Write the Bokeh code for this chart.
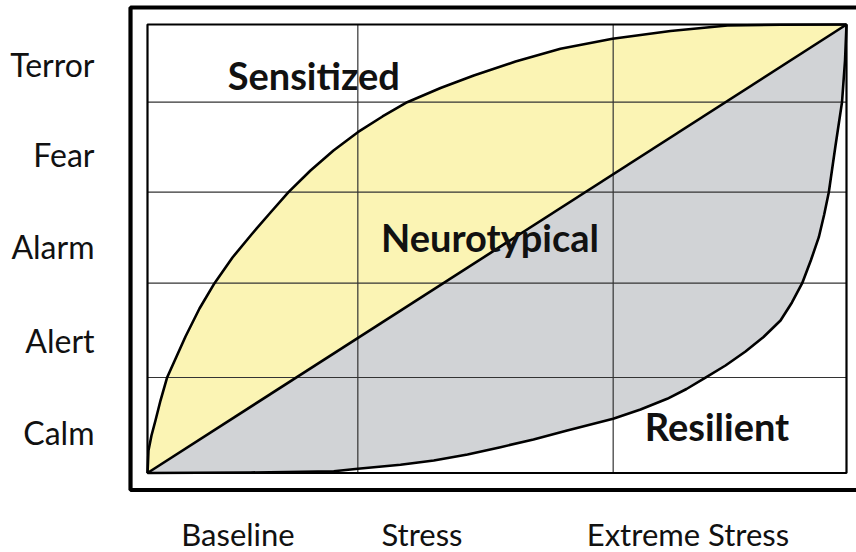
from bokeh.plotting import figure
from bokeh.models import FixedTicker, Range1d
from bokeh.core.properties import value
from bokeh.embed import file_html
from bokeh.resources import INLINE

# ---- data (normalised: 0..1 across the inner chart box) ----
sens_u = [0, 0.0007, 0.0014, 0.0057, 0.0114, 0.0186, 0.0282, 0.0544, 0.0744, 0.0959,
          0.1216, 0.1488, 0.1760, 0.2017, 0.2332, 0.2661, 0.3009, 0.3362, 0.3715,
          0.4192, 0.4668, 0.5265, 0.5908, 0.6652, 0.7482, 0.8298, 0.9056, 1.0]
sens_v = [0, 0.0234, 0.0502, 0.0836, 0.1171, 0.1616, 0.2136, 0.3043, 0.3668, 0.4232,
          0.4805, 0.5318, 0.5808, 0.6261, 0.6745, 0.7191, 0.7599, 0.7949, 0.8268,
          0.8584, 0.8863, 0.9175, 0.9458, 0.9681, 0.9855, 0.9978, 0.9993, 1.0]

res_u = [0, 0.1474, 0.2665, 0.3009, 0.3619, 0.4096, 0.4578, 0.5050, 0.5522, 0.6004,
         0.6662, 0.7053, 0.7435, 0.7711, 0.7983, 0.8269, 0.8555, 0.8813, 0.9056,
         0.9220, 0.9366, 0.9492, 0.9604, 0.9681, 0.9747, 0.9843, 0.9936, 0.9979, 1.0]
res_v = [0, 0.0011, 0.0040, 0.0094, 0.0185, 0.0279, 0.0412, 0.0575, 0.0747, 0.0948,
         0.1208, 0.1416, 0.1654, 0.1873, 0.2129, 0.2397, 0.2709, 0.3032, 0.3400,
         0.3802, 0.4232, 0.4749, 0.5258, 0.5764, 0.6261, 0.7302, 0.8268, 0.9197, 1.0]

neuro_u = [0, 1.0]
neuro_v = [0, 1.0]

grid_u = [0.3009, 0.6662]
grid_v = [0.2129, 0.4232, 0.6261, 0.8268]

y_labels = ["Calm", "Alert", "Alarm", "Fear", "Terror"]
y_label_pos = [0.0903, 0.2944, 0.5051, 0.7102, 0.9109]
x_labels = ["Baseline", "Stress", "Extreme Stress"]
x_label_pos = [0.1295, 0.3927, 0.7732]
x_label_v = -0.1349

region_names = ["Sensitized", "Neurotypical", "Resilient"]
region_u = [0.2379, 0.49, 0.8147]
region_v = [0.8878, 0.5253, 0.1048]

YELLOW = "#FBF4B4"
GRAY = "#D1D3D6"
FONT = "Lato"

p = figure(width=856, height=552, output_backend="svg", toolbar_location=None,
           x_range=Range1d(-0.03004, 1.01431), y_range=Range1d(-0.17726, 1.04682),
           min_border_left=126, min_border_right=0, min_border_top=3, min_border_bottom=0)
p.outline_line_color = None
p.background_fill_color = "white"
p.border_fill_color = "white"
p.xgrid.visible = False
p.ygrid.visible = False
p.xaxis.visible = False

# fills
p.patch(sens_u + neuro_u[::-1], sens_v + neuro_v[::-1], fill_color=YELLOW, line_color=None)
p.patch(neuro_u + res_u[::-1], neuro_v + res_v[::-1], fill_color=GRAY, line_color=None)

# grid lines inside the inner box
p.segment(x0=grid_u, y0=[0] * len(grid_u), x1=grid_u, y1=[1] * len(grid_u),
          line_color="#333333", line_width=1.2)
p.segment(x0=[0] * len(grid_v), y0=grid_v, x1=[1] * len(grid_v), y1=grid_v,
          line_color="#333333", line_width=1.2)

# curves
for uu, vv in ((sens_u, sens_v), (neuro_u, neuro_v), (res_u, res_v)):
    p.line(uu, vv, line_color="black", line_width=2.6, line_join="round")

# inner box
p.quad(left=[0], right=[1], bottom=[0], top=[1], fill_color=None,
       line_color="black", line_width=2.2)
# outer box (right edge runs off the page)
p.quad(left=[-0.0243], right=[1.06], bottom=[-0.0379], top=[1.0379], fill_color=None,
       line_color="black", line_width=4.2)

# region labels
p.text(x=region_u, y=region_v, text=region_names, text_font=value(FONT),
       text_font_style="bold", text_font_size="38px", text_align="center",
       text_baseline="middle", text_color="#111111")

# x category labels (below the box)
p.text(x=x_label_pos, y=[x_label_v] * len(x_label_pos), text=x_labels,
       text_font=value(FONT), text_font_size="31px", text_align="center",
       text_baseline="middle", text_color="#111111")

# y axis with level labels
ax = p.yaxis[0]
ax.axis_line_color = None
ax.major_tick_line_color = None
ax.minor_tick_line_color = None
ax.major_tick_out = 0
ax.major_tick_in = 0
ax.minor_tick_out = 0
ax.major_label_text_font = FONT
ax.major_label_text_font_size = "32px"
ax.major_label_text_color = "#111111"
ax.ticker = FixedTicker(ticks=y_label_pos)
ax.major_label_overrides = {t: s for t, s in zip(y_label_pos, y_labels)}
ax.major_label_standoff = 32

open("out.html", "w").write(file_html(p, INLINE))
